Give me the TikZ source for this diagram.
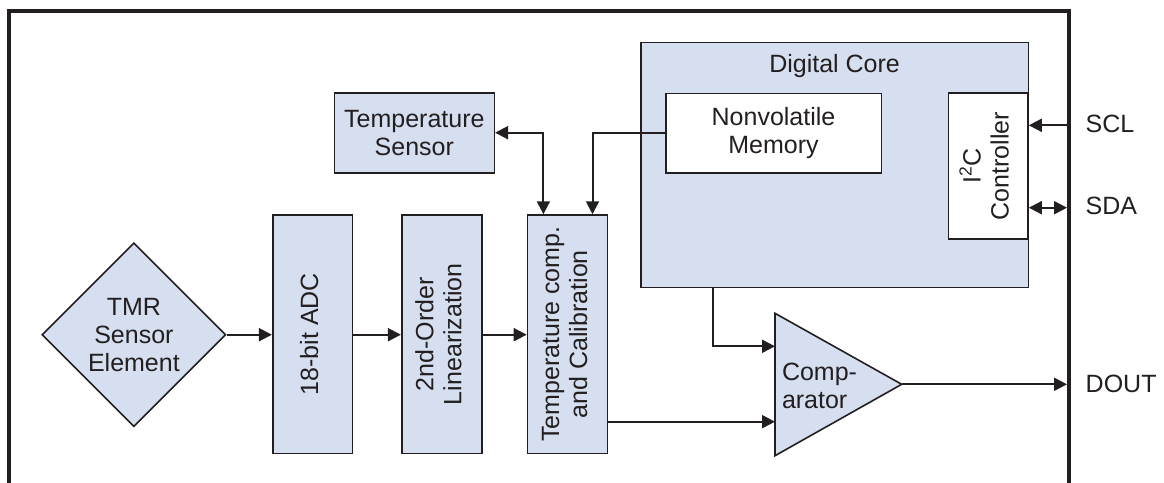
\documentclass[tikz,border=0pt]{standalone}
\usepackage{fontspec}
\setmainfont{Liberation Sans}
\usepackage{graphicx}
\usetikzlibrary{arrows.meta,shapes.geometric,calc}
\definecolor{ink}{RGB}{35,31,32}
\definecolor{blk}{RGB}{214,223,240}
\newcommand{\vtxt}[1]{\rotatebox{90}{\begin{tabular}{@{}c@{}}#1\end{tabular}}}
\begin{document}
\begin{tikzpicture}[x=1pt,y=-1pt,
  every node/.style={font=\fontsize{25}{28}\selectfont, text=ink, inner sep=0pt},
  blkbox/.style={draw=ink, line width=1.6pt, fill=blk, rectangle},
  whtbox/.style={draw=ink, line width=1.6pt, fill=white, rectangle},
  conn/.style={draw=ink, line width=2pt},
  arr/.style={conn, -{Triangle[length=13pt,width=13pt]}},
  dbl/.style={conn, {Triangle[length=13pt,width=13pt]}-{Triangle[length=13pt,width=13pt]}},
  frameline/.style={draw=ink, line width=4pt}
]
\useasboundingbox (0,0) rectangle (1164,482);
% outer frame (open at bottom)
\draw[frameline] (9,484) -- (9,11) -- (1069,11) -- (1069,484);

% blocks
\node[diamond, aspect=1, draw=ink, line width=1.6pt, fill=blk, minimum width=184pt, minimum height=184pt, align=center] (tmr) at (133.9,334.7) {TMR\\Sensor\\Element};
\node[blkbox, minimum width=79.6pt, minimum height=238.3pt] (adc) at (312.5,334.2) {\vtxt{18-bit ADC}};
\node[blkbox, minimum width=80pt, minimum height=238.3pt] (lin) at (441.7,334.2) {\vtxt{2nd-Order\\Linearization}};
\node[blkbox, minimum width=80pt, minimum height=238.3pt] (tc) at (567.5,334.2) {\vtxt{Temperature comp.\\and Calibration}};
\node[blkbox, minimum width=160pt, minimum height=80pt, align=center] (ts) at (414.3,132.7) {Temperature\\Sensor};

\node[blkbox, minimum width=387.3pt, minimum height=245.2pt] (dc) at (834.65,164.9) {};
\node (dctitle) at (834.6,66) {Digital Core};
\node[whtbox, minimum width=215.6pt, minimum height=79.4pt, align=center] (nvm) at (773.5,133) {Nonvolatile\\Memory};
\node[whtbox, minimum width=79.6pt, minimum height=146pt] (i2c) at (988.2,166) {\vtxt{I\textsuperscript{2}C\\Controller}};

% comparator
\coordinate (cmpa) at (775,313.3);
\coordinate (cmpb) at (775,455.7);
\coordinate (cout) at (901.7,384.3);
\draw[draw=ink, line width=1.6pt, fill=blk, line join=miter] (cmpa) -- (cout) -- (cmpb) -- cycle;
\node[anchor=west, align=left] (cmptext) at (781.8,385.5) {Comp-\\arator};
\coordinate (cin1) at (775,346.3);
\coordinate (cin2) at (775,421.7);

% pins
\coordinate (pscl) at (1067,125.3);
\coordinate (psda) at (1067,207.7);
\coordinate (pdout) at (1067,384.3);
\node[anchor=west] (scl) at (1085.5,124) {SCL};
\node[anchor=west] (sda) at (1085.5,206) {SDA};
\node[anchor=west] (dout) at (1085.5,384) {DOUT};

% connectors
\draw[arr] (tmr.east) -- (adc.west |- tmr.east);
\draw[arr] (adc.east |- tmr.east) -- (lin.west |- tmr.east);
\draw[arr] (lin.east |- tmr.east) -- (tc.west |- tmr.east);
\draw[dbl] (ts.east) -| ([xshift=16.7pt]tc.north west);
\draw[arr] (nvm.west) -| ([xshift=-15.8pt]tc.north east);
\draw[arr] ([xshift=72.7pt]dc.south west) |- (cin1);
\draw[arr] (tc.east |- cin2) -- (cin2);
\draw[arr] (cout) -- (pdout);
\draw[arr] (pscl) -- (i2c.east |- pscl);
\draw[dbl] (i2c.east |- psda) -- (psda);
\end{tikzpicture}
\end{document}
